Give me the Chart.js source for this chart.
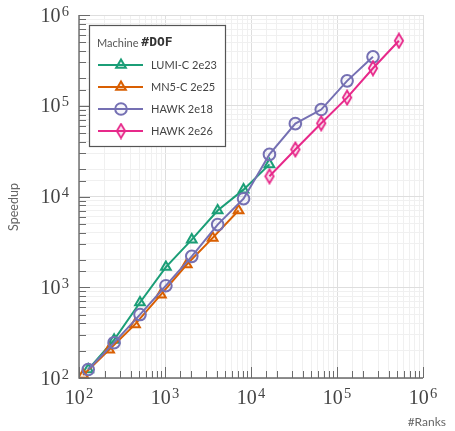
<!DOCTYPE html>
<html><head><meta charset="utf-8">
<script src="https://cdn.jsdelivr.net/npm/chart.js@4/dist/chart.umd.min.js"></script>
<style>html,body{margin:0;padding:0;background:#fff;overflow:hidden}</style>
</head><body>
<canvas id="c" width="455" height="431"></canvas>
<script>
// ---------- data ----------
const lumiRanks     = [128, 256, 512, 1024, 2048, 4096, 8192, 16384];
const lumiSpeedup   = [124, 263, 679, 1670, 3350, 7000, 11900, 22600];
const mn5Ranks      = [112, 224, 448, 896, 1792, 3584, 7168];
const mn5Speedup    = [108, 205, 390, 830, 1780, 3500, 7000];
const hawk18Ranks   = [128, 256, 512, 1024, 2048, 4096, 8192, 16384, 32768, 65536, 131072, 262144];
const hawk18Speedup = [124, 245, 500, 1040, 2190, 4900, 9450, 29100, 63500, 90800, 188000, 346000];
const hawk26Ranks   = [16384, 32768, 65536, 131072, 262144, 524288];
const hawk26Speedup = [16700, 33000, 64100, 123000, 259000, 520000];
const seriesNames   = ['LUMI-C 2e23', 'MN5-C 2e25', 'HAWK 2e18', 'HAWK 2e26'];
const tickExponents = [2, 3, 4, 5, 6];
const legendTitleA  = 'Machine ';
const legendTitleB  = '#DOF';
const xTitle        = '#Ranks';
const yTitle        = 'Speedup';

// ---------- styling helpers ----------
const SANS = 'Lato, "Open Sans", sans-serif';
const SERIF = '"Liberation Serif", "DejaVu Serif", serif';
function isDecade(v){ const l = Math.log10(v); return Math.abs(l - Math.round(l)) < 1e-6; }
function pts(xs, ys){ return xs.map((x, i) => ({x: x, y: ys[i]})); }
function thinDiamond(stroke, fill){
  const c = document.createElement('canvas'); c.width = 12; c.height = 17;
  const g = c.getContext('2d');
  g.beginPath(); g.moveTo(6, 1.5); g.lineTo(10.2, 8.5); g.lineTo(6, 15.5); g.lineTo(1.8, 8.5); g.closePath();
  g.fillStyle = fill; g.fill();
  g.strokeStyle = stroke; g.lineWidth = 1.8; g.stroke();
  return c;
}
const pinkDiamond = thinDiamond('#e7298a', 'rgba(231,41,138,0.15)');

const styles = [
  {color:'#1b9e77', fill:'rgba(27,158,119,0.12)', pointStyle:'triangle', r:5.6, order:4},
  {color:'#d95f02', fill:'rgba(217,95,2,0.12)',  pointStyle:'triangle', r:5.6, order:3},
  {color:'#7570b3', fill:'rgba(117,112,179,0.06)', pointStyle:'circle', r:5.8, order:2},
  {color:'#e7298a', fill:'rgba(231,41,138,0.15)', pointStyle:pinkDiamond, r:6, order:1},
];
const seriesData = [
  pts(lumiRanks, lumiSpeedup), pts(mn5Ranks, mn5Speedup),
  pts(hawk18Ranks, hawk18Speedup), pts(hawk26Ranks, hawk26Speedup)
];

const datasets = seriesData.map((d, i) => ({
  label: seriesNames[i], data: d,
  borderColor: styles[i].color, backgroundColor: styles[i].fill,
  pointBorderColor: styles[i].color, pointBackgroundColor: styles[i].fill,
  pointStyle: styles[i].pointStyle, pointRadius: styles[i].r, pointBorderWidth: 2,
  borderWidth: 2, tension: 0, order: styles[i].order, fill: false
}));

const gridColor = c => (c.tick && isDecade(c.tick.value)) ? '#dedede' : '#f0f0f0';

function drawPow(ctx, exp, x, y, align){
  // x,y: anchor; baseline of "10" at y
  ctx.font = '20px ' + SERIF;
  const w1 = ctx.measureText('10').width;
  ctx.font = '14.5px ' + SERIF;
  const w2 = ctx.measureText(String(exp)).width;
  const gap = 1.2;
  const w = w1 + w2 + gap;
  let x0 = align === 'center' ? x - w / 2 : x - w;
  ctx.textAlign = 'left'; ctx.textBaseline = 'alphabetic';
  ctx.font = '20px ' + SERIF; ctx.fillText('10', x0, y);
  ctx.font = '14.5px ' + SERIF; ctx.fillText(String(exp), x0 + w1 + gap, y - 6);
}

const decor = {
  id: 'decor',
  afterDatasetsDraw(chart){
    const {ctx, chartArea: a, scales: {x, y}} = chart;
    ctx.save();
    ctx.strokeStyle = '#6b6b6b'; ctx.lineWidth = 1.4;
    ctx.beginPath(); ctx.moveTo(a.left, a.top); ctx.lineTo(a.left, a.bottom); ctx.lineTo(a.right, a.bottom); ctx.stroke();
    ctx.lineWidth = 1; ctx.strokeStyle = '#6b6b6b';
    ctx.beginPath();
    x.ticks.forEach(t => {
      const px = Math.round(x.getPixelForValue(t.value)) + 0.5;
      const len = isDecade(t.value) ? 11 : 7;
      ctx.moveTo(px, a.bottom); ctx.lineTo(px, a.bottom - len);
    });
    y.ticks.forEach(t => {
      const py = Math.round(y.getPixelForValue(t.value)) + 0.5;
      const len = isDecade(t.value) ? 11 : 7;
      ctx.moveTo(a.left, py); ctx.lineTo(a.left + len, py);
    });
    ctx.stroke();
    ctx.restore();
  },
  afterDraw(chart){
    const {ctx, chartArea: a, scales: {x, y}} = chart;
    ctx.save();
    ctx.fillStyle = '#444';
    tickExponents.forEach(e => {
      const px = x.getPixelForValue(Math.pow(10, e));
      drawPow(ctx, e, px, a.bottom + 26, 'center');
      const py = y.getPixelForValue(Math.pow(10, e));
      drawPow(ctx, e, 69, py + 6.5, 'right');
    });
    // axis titles
    ctx.fillStyle = '#666';
    ctx.font = '12px ' + SANS;
    ctx.textAlign = 'right'; ctx.textBaseline = 'alphabetic';
    ctx.fillText(xTitle, 446, 426);
    ctx.save();
    ctx.translate(17.5, 207); ctx.rotate(-Math.PI / 2);
    ctx.font = '12.5px ' + SANS;
    ctx.textAlign = 'center'; ctx.fillText(yTitle, 0, 0);
    ctx.restore();

    // legend
    const L = {x: 89.5, y: 25.5, w: 136, h: 121};
    ctx.fillStyle = '#fff'; ctx.fillRect(L.x, L.y, L.w, L.h);
    ctx.strokeStyle = '#555'; ctx.lineWidth = 1.2; ctx.strokeRect(L.x, L.y, L.w, L.h);
    ctx.textAlign = 'left'; ctx.textBaseline = 'middle';
    ctx.fillStyle = '#555'; ctx.font = '11px ' + SANS;
    ctx.fillText(legendTitleA, 97, 43);
    const wa = ctx.measureText(legendTitleA).width;
    ctx.fillStyle = '#333'; ctx.font = 'bold 13px "DejaVu Sans Mono", monospace';
    ctx.fillText(legendTitleB, 97 + wa, 43);
    const rows = [65, 87, 109, 131];
    chart.data.datasets.forEach((ds, i) => {
      const yy = rows[i];
      ctx.strokeStyle = ds.borderColor; ctx.lineWidth = 2;
      ctx.beginPath(); ctx.moveTo(98, yy); ctx.lineTo(143, yy); ctx.stroke();
      ctx.fillStyle = ds.pointBackgroundColor; ctx.strokeStyle = ds.pointBorderColor;
      Chart.helpers.drawPoint(ctx, {pointStyle: ds.pointStyle, radius: ds.pointRadius, borderWidth: 2, rotation: 0}, 121, yy);
      ctx.fillStyle = '#444'; ctx.font = '11px ' + SANS;
      ctx.fillText(ds.label, 151, yy + 0.5);
    });
    ctx.restore();
  }
};

new Chart(document.getElementById('c'), {
  type: 'line',
  data: {datasets},
  options: {
    responsive: false, animation: false, devicePixelRatio: 1,
    layout: {padding: {left: 79, right: 32, top: 15, bottom: 53}},
    plugins: {legend: {display: false}, tooltip: {enabled: false}},
    scales: {
      x: {type: 'logarithmic', min: 100, max: 1e6,
          ticks: {display: false}, border: {display: false},
          grid: {drawTicks: false, color: gridColor, lineWidth: 1}},
      y: {type: 'logarithmic', min: 100, max: 1e6,
          ticks: {display: false}, border: {display: false},
          grid: {drawTicks: false, color: gridColor, lineWidth: 1}}
    }
  },
  plugins: [decor]
});
</script>
</body></html>
